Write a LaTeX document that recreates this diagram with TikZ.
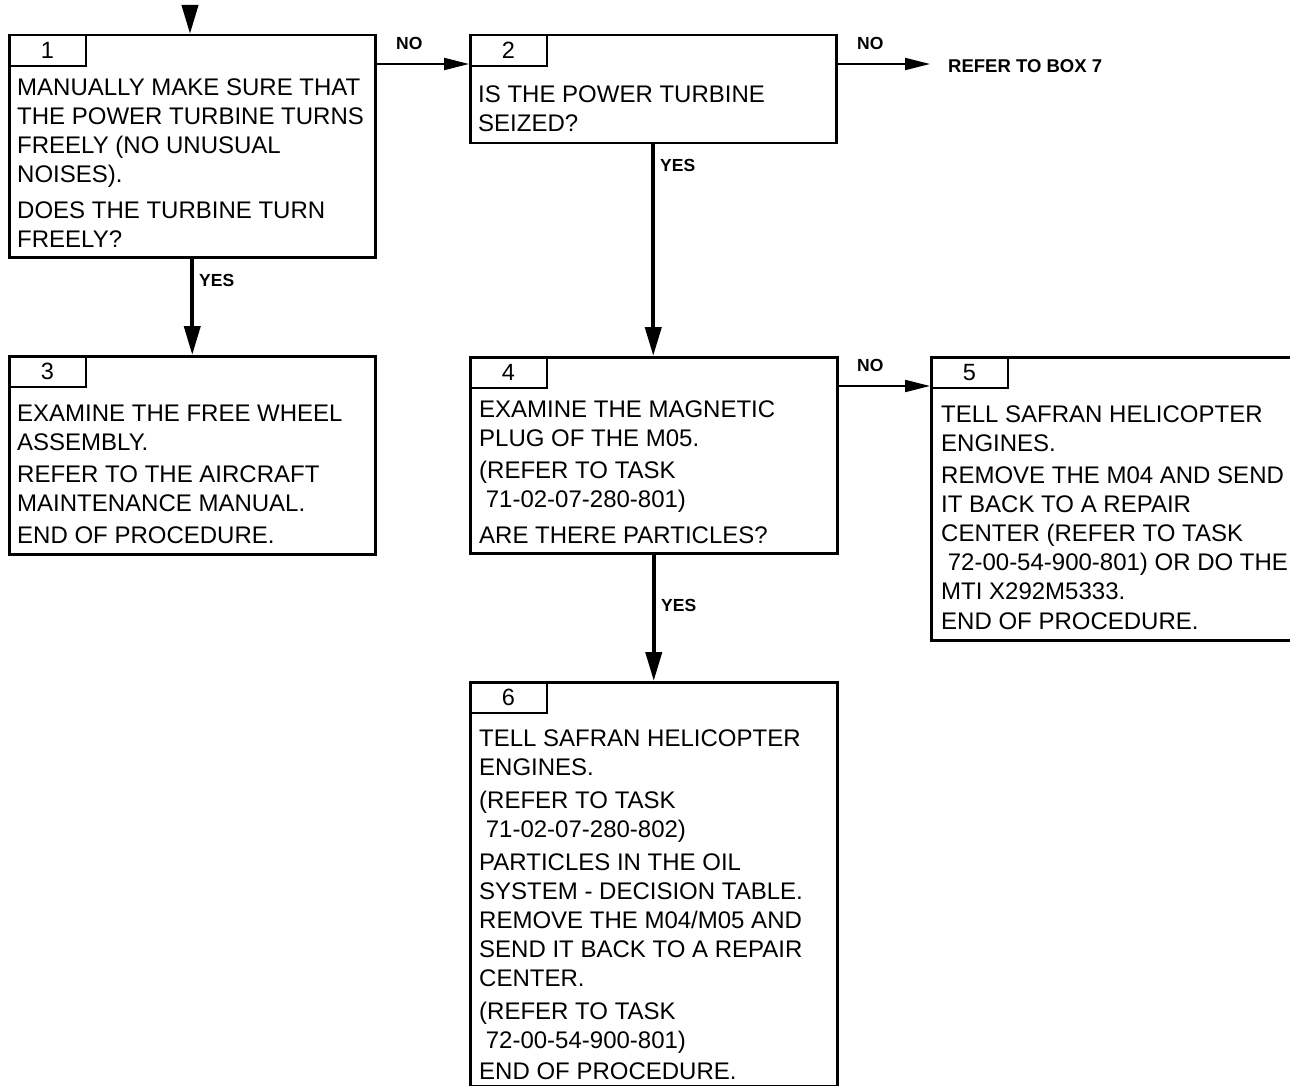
\documentclass[tikz,border=0pt]{standalone}
\usepackage{fontspec}
\setmainfont{Liberation Sans}
\usetikzlibrary{arrows.meta,positioning}
\tikzset{
  box/.style={draw, line width=2.5pt, rectangle, inner sep=0pt, anchor=north west},
  tabbox/.style={draw, line width=2pt, rectangle, inner sep=0pt, anchor=north west,
     minimum width=77pt, minimum height=31pt, font=\fontsize{23.5}{28}\selectfont},
  body/.style={anchor=base west, inner sep=0pt},
  lbl/.style={anchor=base west, inner sep=0pt, font=\fontsize{17.5}{20}\selectfont\bfseries},
  varrow/.style={line width=4pt, -{Triangle[length=29pt,width=16pt]}},
  harrow/.style={line width=2pt, -{Triangle[length=25pt,width=12pt]}},
}
\newcommand{\bt}[2]{\parbox[t]{#1}{\raggedright\fontsize{24}{29}\selectfont #2}}
\newcommand{\ind}{\hspace*{0.278em}}
\begin{document}
\begin{tikzpicture}[x=1pt,y=-1pt]
\useasboundingbox (0,0) rectangle (1290,1086);
\clip (0,0) rectangle (1290,1086);
% boxes
\node[box, minimum width=366pt, minimum height=222pt] (b1) at (8,34) {};
\node[box, minimum width=366pt, minimum height=108pt] (b2) at (469,34) {};
\node[box, minimum width=366pt, minimum height=198pt] (b3) at (8,355) {};
\node[box, minimum width=367pt, minimum height=196pt] (b4) at (469,356) {};
\node[box, minimum width=380pt, minimum height=283pt] (b5) at (930,356) {};
\node[box, minimum width=367pt, minimum height=403.5pt] (b6) at (469,681) {};
% tabs
\node[tabbox] (t1) at (b1.north west) {1};
\node[tabbox] (t2) at (b2.north west) {2};
\node[tabbox] (t3) at (b3.north west) {3};
\node[tabbox] (t4) at (b4.north west) {4};
\node[tabbox] (t5) at (b5.north west) {5};
\node[tabbox] (t6) at (b6.north west) {6};
% texts
\node[body] (x1) at (17,96) {\bt{360pt}{MANUALLY MAKE SURE THAT\\THE POWER TURBINE TURNS\\FREELY (NO UNUSUAL\\NOISES).\\[7pt]DOES THE TURBINE TURN\\FREELY?}};
\node[body] (x2) at (478,103) {\bt{360pt}{IS THE POWER TURBINE\\SEIZED?}};
\node[body] (x3) at (17,421) {\bt{360pt}{EXAMINE THE FREE WHEEL\\ASSEMBLY.\\[3pt]REFER TO THE AIRCRAFT\\MAINTENANCE MANUAL.\\[3pt]END OF PROCEDURE.}};
\node[body] (x4) at (479,417) {\bt{360pt}{EXAMINE THE MAGNETIC\\PLUG OF THE M05.\\[3pt](REFER TO TASK\\\ind 71-02-07-280-801)\\[7pt]ARE THERE PARTICLES?}};
\node[body] (x5) at (941,422) {\bt{360pt}{TELL SAFRAN HELICOPTER\\ENGINES.\\[3pt]REMOVE THE M04 AND SEND\\IT BACK TO A REPAIR\\CENTER (REFER TO TASK\\\ind 72-00-54-900-801) OR DO THE\\MTI X292M5333.\\[1pt]END OF PROCEDURE.}};
\node[body] (x6) at (479,746) {\bt{360pt}{TELL SAFRAN HELICOPTER\\ENGINES.\\[4pt](REFER TO TASK\\\ind 71-02-07-280-802)\\[4pt]PARTICLES IN THE OIL\\SYSTEM - DECISION TABLE.\\REMOVE THE M04/M05 AND\\SEND IT BACK TO A REPAIR\\CENTER.\\[4pt](REFER TO TASK\\\ind 72-00-54-900-801)\\[2pt]END OF PROCEDURE.}};
% connectors
\coordinate (in) at (190,6);
\draw[varrow] (in) -- (b1.north -| in);
\draw[varrow] (b1.south) -- (b3.north -| b1.south);
\draw[varrow] (b2.south) -- (b4.north -| b2.south);
\draw[varrow] (b4.south) -- (b6.north -| b4.south);
\draw[harrow] ([yshift=-30pt]b1.north east) -- ([yshift=-30pt]b2.north west);
\coordinate (r7) at (930,64);
\draw[harrow] ([yshift=-30pt]b2.north east) -- (r7);
\draw[harrow] ([yshift=-30pt]b4.north east) -- ([yshift=-30pt]b5.north west);
% labels
\node[lbl] (n1) at (396,50) {NO};
\node[lbl] (n2) at (857,50) {NO};
\node[lbl] (n3) at (857,371) {NO};
\node[lbl] (y1) at (199,286) {YES};
\node[lbl] (y2) at (660,172) {YES};
\node[lbl] (y3) at (661,611) {YES};
\node[anchor=base west, inner sep=0pt, font=\fontsize{18.5}{20}\selectfont\bfseries] (ref) at (948,73) {REFER TO BOX 7};
\end{tikzpicture}
\end{document}
